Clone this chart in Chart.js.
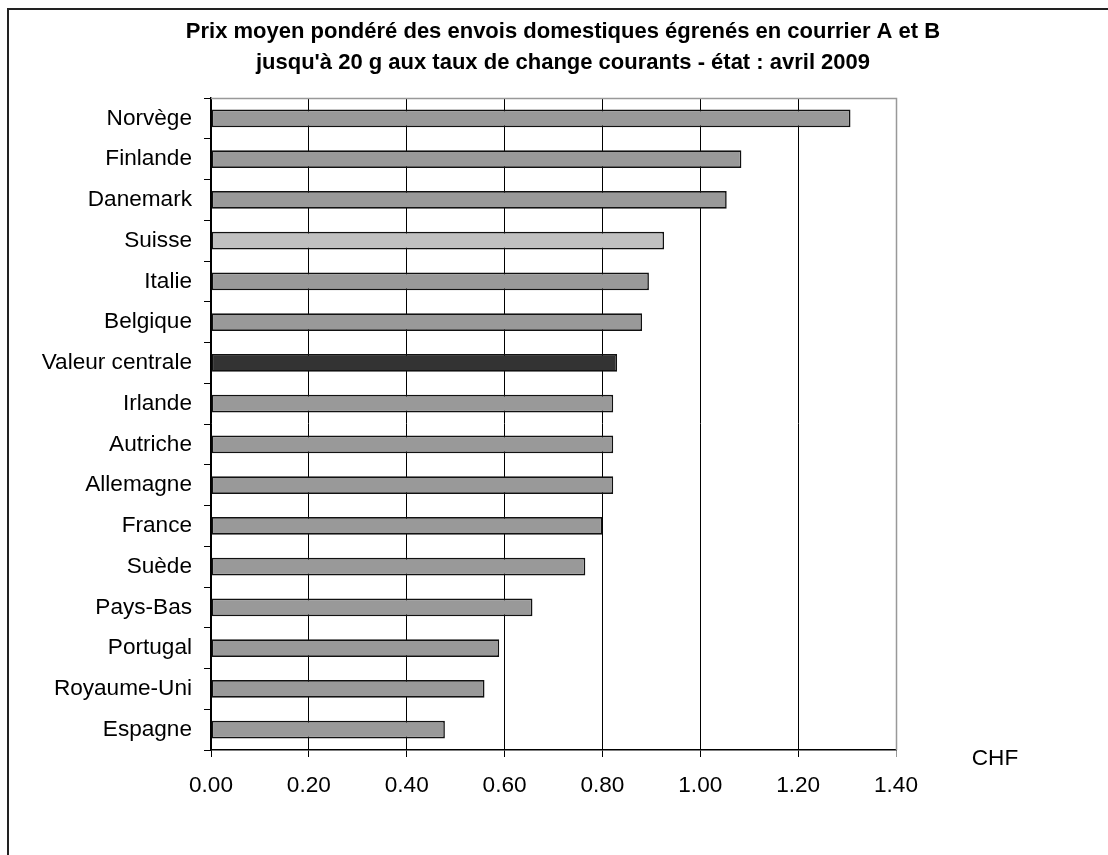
<!DOCTYPE html>
<html>
<head>
<meta charset="utf-8">
<script src="https://cdn.jsdelivr.net/npm/chart.js@4/dist/chart.umd.min.js"></script>
<style>
  html, body { margin: 0; padding: 0; background: #fff; overflow: hidden; }
  #frame {
    position: absolute; left: 7px; top: 8px; width: 1200px; height: 1000px;
    border-left: 2px solid #222; border-top: 2px solid #222;
  }
  #wrap { position: absolute; left: 0; top: 0; width: 1108px; height: 855px; }
</style>
</head>
<body>
<div id="frame"></div>
<div id="wrap"><canvas id="prixChart" width="1108" height="855"></canvas></div>
<script>
// Prix moyen pondéré, courrier A et B jusqu'à 20 g (CHF), avril 2009
const pays = ['Norvège', 'Finlande', 'Danemark', 'Suisse', 'Italie', 'Belgique', 'Valeur centrale',
  'Irlande', 'Autriche', 'Allemagne', 'France', 'Suède', 'Pays-Bas', 'Portugal', 'Royaume-Uni', 'Espagne'];
const prix = [1.307, 1.084, 1.054, 0.926, 0.895, 0.881, 0.830,
  0.822, 0.822, 0.822, 0.800, 0.765, 0.657, 0.589, 0.559, 0.478];
const titre = [
  'Prix moyen pondéré des envois domestiques égrenés en courrier A et B',
  "jusqu'à 20 g aux taux de change courants - état : avril 2009"
];
const unite = 'CHF';

const FONT = "'Liberation Sans', Arial, sans-serif";

const barColors = pays.map(p => {
  if (p === 'Suisse') return '#c0c0c0';
  if (p === 'Valeur centrale') return '#333333';
  return '#999999';
});

// titre, cadre gris du graphique et unité
const decor = {
  id: 'decor',
  afterDraw(chart) {
    const { ctx, chartArea: a } = chart;
    ctx.save();
    ctx.strokeStyle = '#999999';
    ctx.lineWidth = 1.5;
    ctx.beginPath();
    ctx.moveTo(a.left, a.top + 0.5);
    ctx.lineTo(a.right + 0.5, a.top + 0.5);
    ctx.lineTo(a.right + 0.5, a.bottom);
    ctx.stroke();

    ctx.fillStyle = '#000';
    ctx.textAlign = 'center';
    ctx.textBaseline = 'alphabetic';
    ctx.font = 'bold 22px ' + FONT;
    ctx.fillText(titre[0], 563, 38);
    ctx.fillText(titre[1], 563, 69);

    ctx.font = '22.6px ' + FONT;
    ctx.fillText(unite, a.right + 99, a.bottom + 15);
    ctx.restore();
  }
};

new Chart(document.getElementById('prixChart'), {
  type: 'bar',
  data: {
    labels: pays,
    datasets: [{
      data: prix,
      backgroundColor: barColors,
      borderColor: '#111',
      borderWidth: 1.6,
      borderSkipped: false,
      barPercentage: 0.43,
      categoryPercentage: 1
    }]
  },
  options: {
    indexAxis: 'y',
    responsive: false,
    animation: false,
    devicePixelRatio: 1,
    layout: { padding: { top: 98, right: 212, bottom: 0, left: 0 } },
    plugins: {
      legend: { display: false },
      title: { display: false },
      tooltip: { enabled: false }
    },
    scales: {
      x: {
        min: 0,
        max: 1.4,
        afterFit(scale) { scale.height = 105; },
        ticks: {
          stepSize: 0.2,
          padding: 15,
          color: '#000',
          font: { family: FONT, size: 22.6 },
          callback: v => Number(v).toFixed(2)
        },
        grid: {
          color: ctx => (ctx.tick && ctx.tick.value >= 1.4 ? '#999999' : '#000'),
          lineWidth: 1,
          tickLength: 7
        },
        border: { color: '#000', width: 1.5 }
      },
      y: {
        afterFit(scale) { scale.width = 211; },
        ticks: {
          padding: 12,
          color: '#000',
          font: { family: FONT, size: 22.6 }
        },
        grid: {
          offset: true,
          drawOnChartArea: false,
          color: '#000',
          tickLength: 7
        },
        border: { color: '#000', width: 1.5 }
      }
    }
  },
  plugins: [decor]
});
</script>
</body>
</html>
